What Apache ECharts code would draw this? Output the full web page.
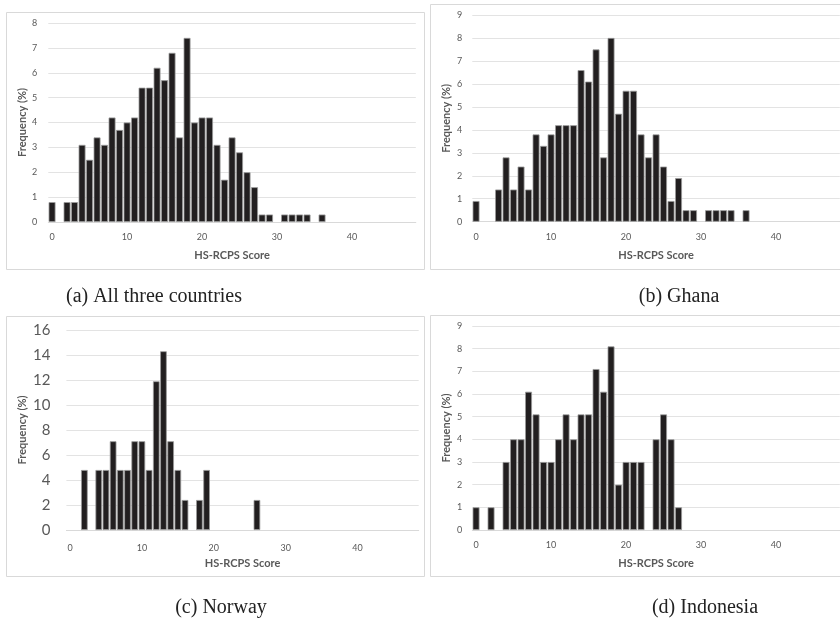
<!DOCTYPE html>
<html>
<head>
<meta charset="utf-8">
<script src="https://cdn.jsdelivr.net/npm/echarts@6/dist/echarts.min.js"></script>
<style>
  html, body { margin: 0; padding: 0; background: #ffffff; }
  #chart { width: 840px; height: 623px; }
</style>
</head>
<body>
<div id="chart"></div>
<script>
// HS-RCPS score categories (x axis), 0..48
const scoreLabels = ['0','1','2','3','4','5','6','7','8','9','10','11','12','13','14','15','16','17','18','19','20','21','22','23','24','25','26','27','28','29','30','31','32','33','34','35','36','37','38','39','40','41','42','43','44','45','46','47','48'];

// Frequency (%) by score, starting at score 0
const allCountries = [0.8, null, 0.8, 0.8, 3.1, 2.5, 3.4, 3.1, 4.2, 3.7, 4.0, 4.2, 5.4, 5.4, 6.2, 5.7, 6.8, 3.4, 7.4, 4.0, 4.2, 4.2, 3.1, 1.7, 3.4, 2.8, 2.0, 1.4, 0.3, 0.3, null, 0.3, 0.3, 0.3, 0.3, null, 0.3];
const ghana = [0.9, null, null, 1.4, 2.8, 1.4, 2.4, 1.4, 3.8, 3.3, 3.8, 4.2, 4.2, 4.2, 6.6, 6.1, 7.5, 2.8, 8.0, 4.7, 5.7, 5.7, 3.8, 2.8, 3.8, 2.4, 0.9, 1.9, 0.5, 0.5, null, 0.5, 0.5, 0.5, 0.5, null, 0.5];
const norway = [null, null, 4.8, null, 4.8, 4.8, 7.1, 4.8, 4.8, 7.1, 7.1, 4.8, 11.9, 14.3, 7.1, 4.8, 2.4, null, 2.4, 4.8, null, null, null, null, null, null, 2.4];
const indonesia = [1.0, null, 1.0, null, 3.0, 4.0, 4.0, 6.1, 5.1, 3.0, 3.0, 4.0, 5.1, 4.0, 5.1, 5.1, 7.1, 6.1, 8.1, 2.0, 3.0, 3.0, 3.0, null, 4.0, 5.1, 4.0, 1.0];

// y-axis ranges
const yMaxA = 8, yStepA = 1;
const yMaxB = 9, yStepB = 1;
const yMaxC = 16, yStepC = 2;
const yMaxD = 9, yStepD = 1;

// captions
const captions = ['(a) All three countries', '(b) Ghana', '(c) Norway', '(d) Indonesia'];
const xTitle = 'HS-RCPS Score';
const yTitle = 'Frequency (%)';

const FONT = 'Lato, "Open Sans", sans-serif';
const TXT = '#595959';
const GRID = '#e3e3e3';

const panels = [
  { grid: { left: 48.3, top: 23, width: 367.5, height: 199 }, data: allCountries, max: yMaxA, step: yStepA, ySize: 9, yMargin: 11, yGap: 20, xMargin: 11 },
  { grid: { left: 472.3, top: 15, width: 367.5, height: 206.7 }, data: ghana, max: yMaxB, step: yStepB, ySize: 9, yMargin: 10, yGap: 20, xMargin: 11 },
  { grid: { left: 66.4, top: 330, width: 352.3, height: 200 }, data: norway, max: yMaxC, step: yStepC, ySize: 15, yMargin: 16, yGap: 38, xMargin: 14 },
  { grid: { left: 472.3, top: 326, width: 367.5, height: 204 }, data: indonesia, max: yMaxD, step: yStepD, ySize: 9, yMargin: 10, yGap: 20, xMargin: 11 }
];

const option = {
  backgroundColor: '#ffffff',
  animation: false,
  grid: panels.map(p => Object.assign({ containLabel: false }, p.grid)),
  xAxis: panels.map((p, i) => ({
    type: 'category',
    gridIndex: i,
    data: scoreLabels,
    boundaryGap: true,
    axisLine: { show: true, lineStyle: { color: '#d9d9d9', width: 1 } },
    axisTick: { show: false },
    axisLabel: { interval: 9, color: TXT, fontFamily: FONT, fontSize: 9, margin: p.xMargin },
    name: xTitle,
    nameLocation: 'middle',
    nameGap: 28,
    nameTextStyle: { color: TXT, fontFamily: FONT, fontSize: 11, fontWeight: 'bold' }
  })),
  yAxis: panels.map((p, i) => ({
    type: 'value',
    gridIndex: i,
    min: 0,
    max: p.max,
    interval: p.step,
    axisLine: { show: false },
    axisTick: { show: false },
    splitLine: { show: true, lineStyle: { color: GRID, width: 1 } },
    axisLabel: { color: TXT, fontFamily: FONT, fontSize: p.ySize, margin: p.yMargin },
    name: yTitle,
    nameLocation: 'middle',
    nameGap: p.yGap,
    nameRotate: 90,
    nameTextStyle: { color: TXT, fontFamily: FONT, fontSize: 11, fontWeight: 'bold' }
  })),
  series: panels.map((p, i) => ({
    type: 'bar',
    xAxisIndex: i,
    yAxisIndex: i,
    data: p.data,
    barCategoryGap: '8%',
    itemStyle: { color: '#221f20', borderColor: '#9b9b9b', borderWidth: 0.8 }
  })),
  graphic: [
    { type: 'rect', shape: { x: 6.5, y: 12.5, width: 418, height: 257 }, style: { fill: null, stroke: '#d9d9d9', lineWidth: 1 }, silent: true },
    { type: 'rect', shape: { x: 430.5, y: 4.5, width: 420, height: 265 }, style: { fill: null, stroke: '#d9d9d9', lineWidth: 1 }, silent: true },
    { type: 'rect', shape: { x: 6.5, y: 316.5, width: 418, height: 260 }, style: { fill: null, stroke: '#d9d9d9', lineWidth: 1 }, silent: true },
    { type: 'rect', shape: { x: 430.5, y: 315.5, width: 420, height: 261 }, style: { fill: null, stroke: '#d9d9d9', lineWidth: 1 }, silent: true },
    { type: 'text', x: 154, y: 297, style: { text: captions[0], font: '20px "Liberation Serif", serif', fill: '#222', textAlign: 'center', textVerticalAlign: 'middle' } },
    { type: 'text', x: 679, y: 297, style: { text: captions[1], font: '20px "Liberation Serif", serif', fill: '#222', textAlign: 'center', textVerticalAlign: 'middle' } },
    { type: 'text', x: 221, y: 608, style: { text: captions[2], font: '20px "Liberation Serif", serif', fill: '#222', textAlign: 'center', textVerticalAlign: 'middle' } },
    { type: 'text', x: 705, y: 608, style: { text: captions[3], font: '20px "Liberation Serif", serif', fill: '#222', textAlign: 'center', textVerticalAlign: 'middle' } }
  ]
};

const chart = echarts.init(document.getElementById('chart'), null, { renderer: 'canvas' });
chart.setOption(option);
</script>
</body>
</html>
